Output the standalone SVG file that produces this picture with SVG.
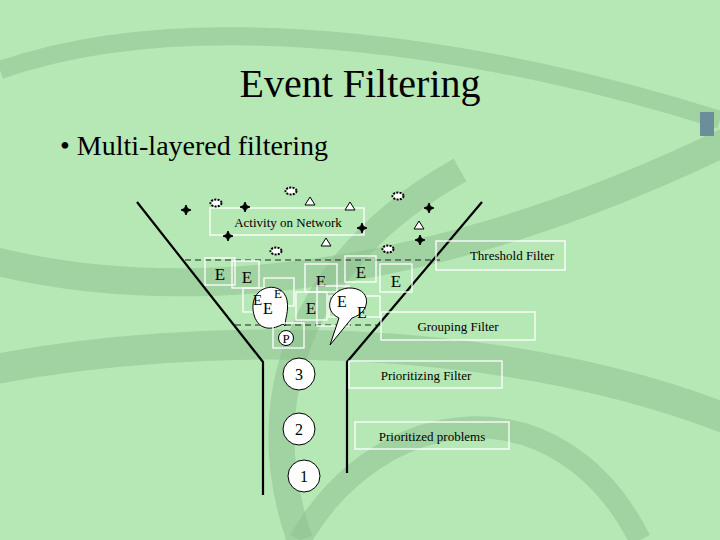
<svg xmlns="http://www.w3.org/2000/svg" width="720" height="540" viewBox="0 0 720 540" font-family="'Liberation Serif','Times New Roman','DejaVu Serif',serif">
<style>
text{font-family:'Liberation Serif','Times New Roman','DejaVu Serif',serif;fill:#000}
.lbl{font-size:13px}
.e{font-size:17px}
.wb{fill:none;stroke:#fff;stroke-width:1.3}
.ln{stroke:#000;stroke-width:2.2;fill:none}
.ds{stroke:#222;stroke-width:1.2;stroke-dasharray:6,4;fill:none}
.bub{fill:#fff;stroke:#000;stroke-width:1}
.sw{fill:none;stroke:#8fbf8f;opacity:.55}
</style>
<rect width="720" height="540" fill="#b5e8b5"/>
<g id="bg">
<path class="sw" stroke-width="28" d="M-10 260 C150 300 400 300 730 140"/>
<path class="sw" stroke-width="30" d="M-10 370 C200 330 500 330 730 420"/>
<path class="sw" stroke-width="26" d="M460 170 C300 260 250 400 300 540"/>
<path class="sw" stroke-width="22" d="M300 540 C380 400 560 380 640 540"/>
<path class="sw" stroke-width="18" d="M0 70 C200 0 500 50 720 120"/>
<rect x="700" y="112" width="14" height="24" fill="#6a8f9a"/>
</g>
<text x="360" y="97" font-size="40" text-anchor="middle">Event Filtering</text>
<text x="60" y="155" font-size="28">• Multi-layered filtering</text>
<g id="funnel">
<path class="ln" d="M137 202 L263 362 L263 495"/>
<path class="ln" d="M482 202 L347 362 L347 473"/>
<path class="ds" d="M185 260 H440"/>
<path class="ds" d="M235 325 H382"/>
</g>
<g id="activity"><rect class="wb" x="210" y="208" width="154" height="27"/><text class="lbl" x="288" y="227" text-anchor="middle">Activity on Network</text></g>
<g id="threshold"><rect class="wb" x="436" y="241" width="129" height="29"/><text class="lbl" x="512" y="260" text-anchor="middle">Threshold Filter</text></g>
<g id="grouping"><rect class="wb" x="381" y="312" width="154" height="28"/><text class="lbl" x="458" y="331" text-anchor="middle">Grouping  Filter</text></g>
<g id="prioritizing"><rect class="wb" x="349" y="361" width="153" height="27"/><text class="lbl" x="426" y="380" text-anchor="middle">Prioritizing Filter</text></g>
<g id="problems"><rect class="wb" x="355" y="422" width="154" height="27"/><text class="lbl" x="432" y="441" text-anchor="middle">Prioritized problems</text></g>
<g id="symbols" fill="#fff" stroke="#000" stroke-width="1">
<g fill="#000">
<path d="M186 205 l1.5 3.5 3.5 1.5 -3.5 1.5 -1.5 3.5 -1.5 -3.5 -3.5 -1.5 3.5 -1.5z"/>
<path d="M245 202 l1.5 3.5 3.5 1.5 -3.5 1.5 -1.5 3.5 -1.5 -3.5 -3.5 -1.5 3.5 -1.5z"/>
<path d="M228 231 l1.5 3.5 3.5 1.5 -3.5 1.5 -1.5 3.5 -1.5 -3.5 -3.5 -1.5 3.5 -1.5z"/>
<path d="M362 223 l1.5 3.5 3.5 1.5 -3.5 1.5 -1.5 3.5 -1.5 -3.5 -3.5 -1.5 3.5 -1.5z"/>
<path d="M429 203 l1.5 3.5 3.5 1.5 -3.5 1.5 -1.5 3.5 -1.5 -3.5 -3.5 -1.5 3.5 -1.5z"/>
<path d="M420 235 l1.5 3.5 3.5 1.5 -3.5 1.5 -1.5 3.5 -1.5 -3.5 -3.5 -1.5 3.5 -1.5z"/>
</g>
<g stroke-dasharray="2,1.2" stroke-width="2">
<ellipse cx="216" cy="203" rx="5.5" ry="3.5"/>
<ellipse cx="291" cy="191" rx="5.5" ry="3.5"/>
<ellipse cx="398" cy="196" rx="5.5" ry="3.5"/>
<ellipse cx="276" cy="251" rx="5.5" ry="3.5"/>
<ellipse cx="388" cy="249" rx="5.5" ry="3.5"/>
</g>
<path d="M310 197 l5 8 h-10z"/>
<path d="M350 202 l5 8 h-10z"/>
<path d="M326 238 l5 8 h-10z"/>
<path d="M419 221 l5 8 h-10z"/>
</g>
<g id="events">
<rect class="wb" x="205" y="258" width="30" height="27"/><text class="e" x="220" y="280" text-anchor="middle">E</text>
<rect class="wb" x="232" y="261" width="27" height="27"/><text class="e" x="247" y="283" text-anchor="middle">E</text>
<rect class="wb" x="305" y="264" width="32" height="28"/><text class="e" x="321" y="287" text-anchor="middle">E</text>
<rect class="wb" x="345" y="256" width="31" height="26"/><text class="e" x="361" y="278" text-anchor="middle">E</text>
<rect class="wb" x="380" y="264" width="32" height="28"/><text class="e" x="396" y="287" text-anchor="middle">E</text>
<rect class="wb" x="243" y="288" width="33" height="24"/>
<rect class="wb" x="264" y="278" width="30" height="28"/>
<rect class="wb" x="296" y="292" width="31" height="28"/><text class="e" x="311" y="314" text-anchor="middle">E</text>
<rect class="wb" x="317" y="286" width="32" height="40"/>
<rect class="wb" x="329" y="296" width="51" height="21"/>
</g>
<g id="bubble1">
<path class="bub" d="M283 324 C262 336 252 320 253 305 C254 285 282 280 287 300 C289 312 285 318 285 326 Z"/>
<text x="253" y="305" font-size="15">E</text><text x="274" y="298" font-size="13">E</text><text x="263" y="314" font-size="16">E</text>
</g>
<g id="bubble2">
<path class="bub" d="M330 345 L339 318 C322 310 330 290 348 288 C372 287 372 312 352 318 Z"/>
<text x="337" y="307" font-size="16">E</text><text x="357" y="318" font-size="16">E</text>
</g>
<g id="p"><rect class="wb" x="273" y="323" width="31" height="25"/><circle class="bub" cx="286" cy="338" r="7.5"/><text x="286" y="343" font-size="13" text-anchor="middle">P</text></g>
<g id="n3"><circle class="bub" cx="299" cy="374" r="16"/><text x="299" y="380" font-size="16" text-anchor="middle">3</text></g>
<g id="n2"><circle class="bub" cx="299" cy="429" r="16"/><text x="299" y="435" font-size="16" text-anchor="middle">2</text></g>
<g id="n1"><circle class="bub" cx="304" cy="476" r="16"/><text x="304" y="482" font-size="16" text-anchor="middle">1</text></g>
</svg>
